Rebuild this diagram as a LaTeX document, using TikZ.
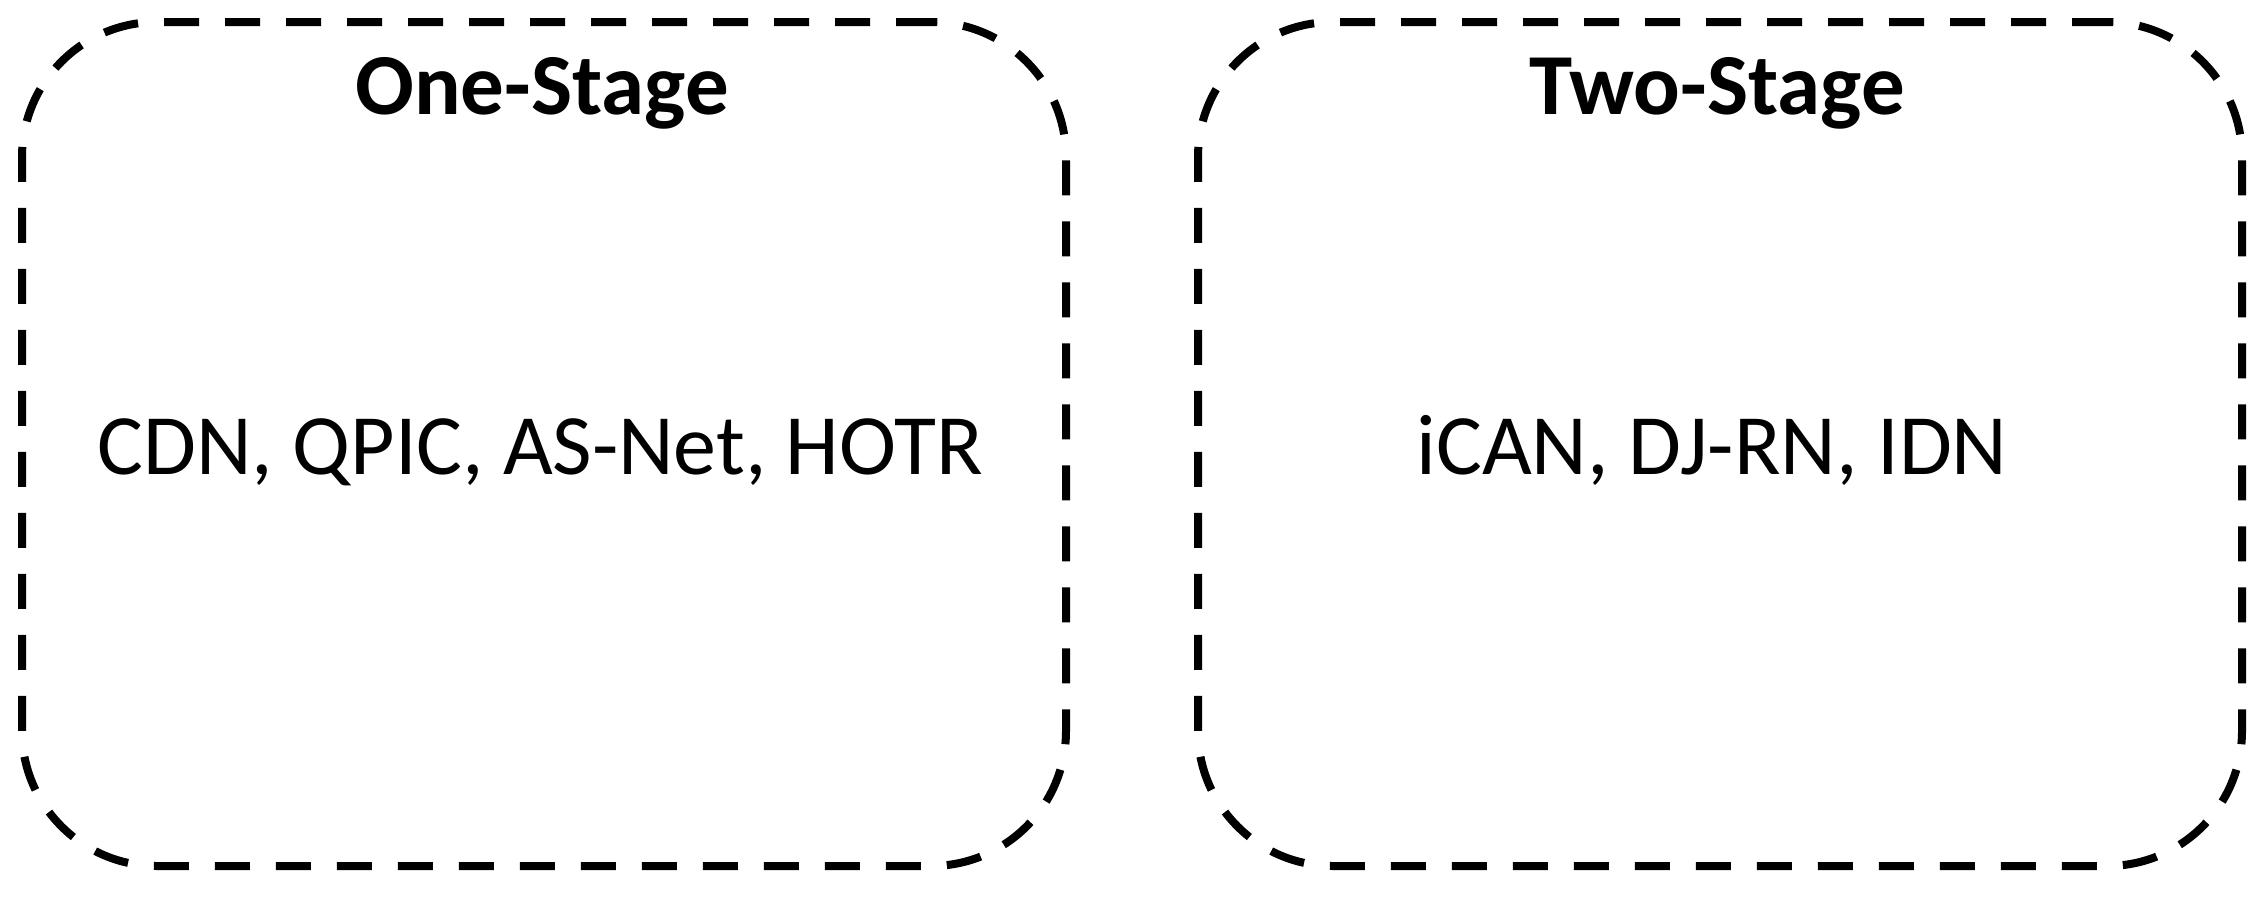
\documentclass[tikz,border=0pt]{standalone}
\usepackage{fontspec}
\setmainfont{Carlito}
\begin{document}
\begin{tikzpicture}[x=1pt,y=-1pt,
  groupbox/.style={draw=black, line width=8pt, dash pattern=on 35pt off 26pt,
    rounded corners=135pt, minimum width=1044pt, minimum height=844pt, inner sep=0pt},
  title/.style={anchor=base, inner sep=0pt, font=\fontsize{87}{100}\selectfont\bfseries},
  members/.style={anchor=base, inner sep=0pt, font=\fontsize{86}{100}\selectfont}]
\useasboundingbox (0,0) rectangle (2264,900);
\node[groupbox] (one) at (544,444) {};
\node[groupbox] (two) at (1720,444) {};
\node[title] (onetitle) at (542,114) {One-Stage};
\node[title] (twotitle) at (1717,114) {Two-Stage};
\node[members] (onelist) at (540,474) {CDN, QPIC, AS-Net, HOTR};
\node[members] (twolist) at (1712,474) {iCAN, DJ-RN, IDN};
\end{tikzpicture}
\end{document}
